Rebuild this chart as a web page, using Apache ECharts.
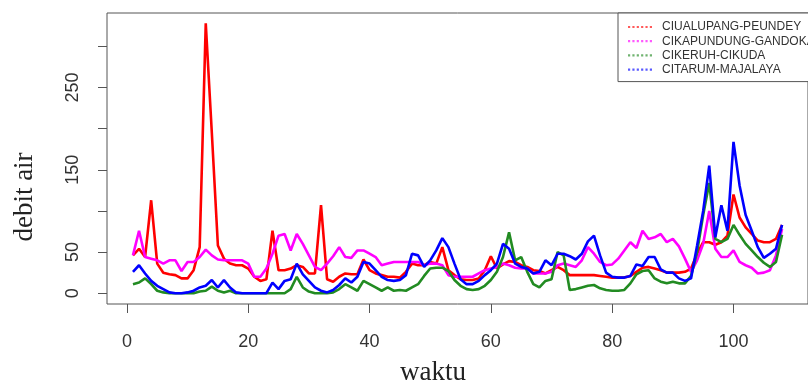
<!DOCTYPE html>
<html>
<head>
<meta charset="utf-8">
<script src="https://cdn.jsdelivr.net/npm/echarts@6/dist/echarts.min.js"></script>
<style>html,body{margin:0;padding:0;background:#fff}#c{width:808px;height:385px}</style>
</head>
<body>
<div id="c"></div>
<script>
// ---- data ----
const waktu = Array.from({length: 108}, (_, i) => i + 1);
const seriesNames = ['CIUALUPANG-PEUNDEY', 'CIKAPUNDUNG-GANDOKAN', 'CIKERUH-CIKUDA', 'CITARUM-MAJALAYA'];
const cialupang = [46,54,44,113,36,25,23,22,18,18,28,56,328,195,58,42,36,34,34,30,20,15,17,76,28,28,30,34,32,24,24,107,17,14,20,24,23,23,41,28,24,22,20,20,19,26,36,34,34,38,36,56,28,22,17,16,16,18,28,45,30,35,39,38,34,32,28,27,24,28,32,28,22,22,22,22,22,21,20,19,19,19,21,26,31,32,30,28,25,25,25,26,30,48,62,62,59,62,70,120,92,80,72,64,62,62,66,83];
const cikapundung = [46,76,44,42,40,36,40,40,27,38,38,44,53,46,41,40,40,40,40,36,20,20,30,48,70,72,52,72,60,46,32,28,36,45,56,44,43,52,52,48,44,34,36,38,38,38,38,38,34,36,36,34,22,20,20,20,20,24,28,30,32,36,34,31,30,30,24,24,24,26,34,36,34,32,40,56,48,38,34,35,42,52,62,55,76,66,68,72,62,66,57,42,26,40,60,100,54,44,44,52,38,34,31,24,25,28,46,78];
const cikeruh = [11,13,18,11,3,1,0,0,0,0,0,2,3,8,3,1,3,0,0,0,0,0,0,0,0,0,5,20,7,2,0,0,0,1,5,11,7,3,15,11,7,3,7,3,4,3,7,11,21,30,31,31,27,16,9,5,4,5,9,16,26,44,74,40,44,26,11,7,15,17,50,46,4,5,7,9,10,6,4,3,3,4,12,23,27,28,18,14,12,14,12,12,21,50,95,134,66,62,66,83,71,60,52,44,37,32,38,71];
const citarum = [26,34,24,15,9,5,1,0,0,1,3,7,9,16,7,16,7,1,0,0,0,0,0,13,5,15,17,36,23,15,7,3,1,4,10,18,13,20,38,36,28,20,16,15,16,22,48,46,32,40,52,67,56,36,17,11,11,15,22,28,36,60,54,36,32,30,24,26,40,34,48,48,45,41,48,63,70,46,25,20,19,19,21,35,33,44,44,29,25,25,18,15,18,58,100,155,68,107,76,184,131,95,76,56,43,48,54,83];
const xTicks = [0, 20, 40, 60, 80, 100];
const yTicks = [0, 50, 100, 150, 200, 250, 300];
const yLabels = [0, 50, 150, 250];
const colors = ['#ff0000', '#ff00ff', '#228b22', '#0000ff'];

const allValues = [cialupang, cikapundung, cikeruh, citarum];
const chart = echarts.init(document.getElementById('c'), null, {renderer: 'canvas'});
const dotted = 'path://M0,0h2v2h-2z M4,0h2v2h-2z M8,0h2v2h-2z M12,0h2v2h-2z M16,0h2v2h-2z M20,0h2v2h-2z';
chart.setOption({
  animation: false,
  backgroundColor: '#fff',
  grid: {left: 107, top: 13, width: 708, height: 291, show: true, borderColor: '#555', borderWidth: 1, backgroundColor: 'transparent'},
  xAxis: {
    type: 'value', min: -3.28, max: 112.28,
    axisLine: {show: false, onZero: false},
    splitLine: {show: false},
    axisTick: {show: true, length: 9, lineStyle: {color: '#555'}, customValues: xTicks},
    axisLabel: {customValues: xTicks, margin: 29, fontSize: 18, color: '#333', fontFamily: 'Liberation Sans'}
  },
  yAxis: {
    type: 'value', min: -13.1, max: 340.6,
    axisLine: {show: false, onZero: false},
    splitLine: {show: false},
    axisTick: {show: true, length: 9, lineStyle: {color: '#555'}, customValues: yTicks},
    axisLabel: {customValues: yLabels, rotate: 90, margin: 25, fontSize: 18, color: '#333', fontFamily: 'Liberation Sans'}
  },
  legend: {
    orient: 'vertical', left: 618, top: 13,
    padding: [8, 40, 6, 10],
    itemWidth: 24, itemHeight: 12, itemGap: 2.2,
    icon: dotted,
    itemStyle: {opacity: 0.65},
    borderColor: '#555', borderWidth: 1, borderRadius: 0, backgroundColor: '#fff',
    textStyle: {fontSize: 12, color: '#333', fontFamily: 'Liberation Sans', padding: [0, 0, 0, 5], lineHeight: 12},
    data: seriesNames
  },
  graphic: [
    {type: 'text', x: 433, y: 373, style: {text: 'waktu', font: '27px "Liberation Serif"', fill: '#222', textAlign: 'center', textVerticalAlign: 'middle'}},
    {type: 'text', x: 25, y: 197, rotation: Math.PI / 2, style: {text: 'debit air', font: '27px "Liberation Serif"', fill: '#222', textAlign: 'center', textVerticalAlign: 'middle'}}
  ],
  series: seriesNames.map((name, i) => ({
    name: name, type: 'line', symbol: 'none', showSymbol: false,
    color: colors[i],
    lineStyle: {width: 2.6, color: colors[i]},
    data: waktu.map((x, j) => [x, allValues[i][j]])
  }))
});
</script>
</body>
</html>
